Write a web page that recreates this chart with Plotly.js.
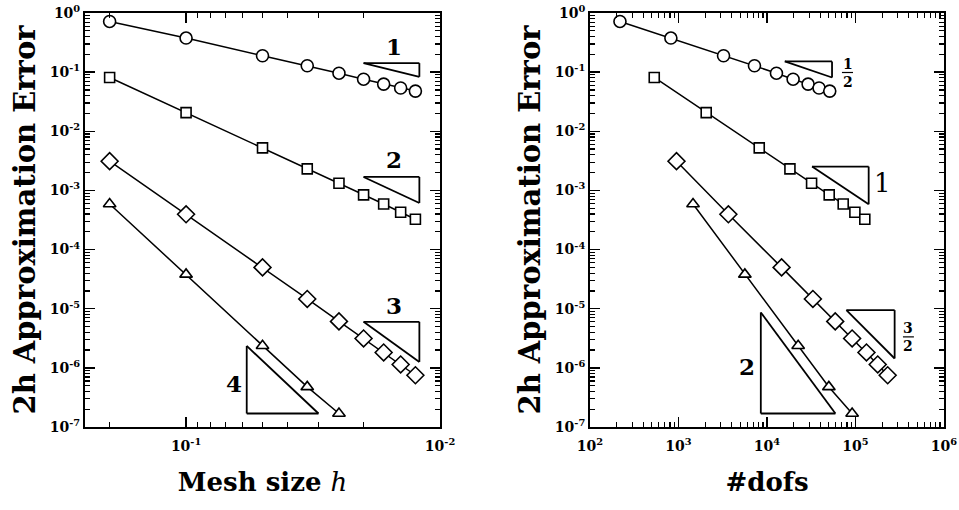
<!DOCTYPE html>
<html>
<head>
<meta charset="utf-8">
<script src="https://cdn.plot.ly/plotly-3.0.1.min.js"></script>
<style>html,body{margin:0;padding:0;background:#fff;}#chart{width:959px;height:510px;}</style>
</head>
<body>
<div id="chart"></div>
<script>
// ---- data ----
const meshSize = [0.2, 0.1, 0.05, 0.03333, 0.025, 0.02, 0.01667, 0.01429, 0.0125];
const meshSizeDeg4 = [0.2, 0.1, 0.05, 0.03333, 0.025];
const errDeg1 = [0.72, 0.377, 0.189, 0.128, 0.096, 0.076, 0.0628, 0.054, 0.0478];
const errDeg2 = [0.0813, 0.0207, 0.00524, 0.00231, 0.00132, 8.4e-4, 5.9e-4, 4.27e-4, 3.25e-4];
const errDeg3 = [3.12e-3, 3.95e-4, 5.0e-5, 1.46e-5, 6.1e-6, 3.14e-6, 1.82e-6, 1.14e-6, 7.5e-7];
const errDeg4 = [5.9e-4, 3.8e-5, 2.36e-6, 4.76e-7, 1.69e-7];
const dofsDeg1 = [218, 820, 3228, 7216, 12790, 19720, 29120, 38730, 51170];
const dofsDeg2 = [532, 2056, 8170, 18160, 31900, 50440, 72600, 98400, 127400];
const dofsDeg3 = [949, 3660, 14620, 33000, 59000, 91600, 133000, 178300, 231000];
const dofsDeg4 = [1459, 5620, 22500, 50000, 91600];

const yTickVals = [1, 1e-1, 1e-2, 1e-3, 1e-4, 1e-5, 1e-6, 1e-7];
const yTickText = ['10<sup>0</sup>','10<sup>-1</sup>','10<sup>-2</sup>','10<sup>-3</sup>','10<sup>-4</sup>','10<sup>-5</sup>','10<sup>-6</sup>','10<sup>-7</sup>'];
const hTickVals = [0.1, 0.01];
const hTickText = ['10<sup>-1</sup>','10<sup>-2</sup>'];
const dofsTickVals = [1e2, 1e3, 1e4, 1e5, 1e6];
const dofsTickText = ['10<sup>2</sup>','10<sup>3</sup>','10<sup>4</sup>','10<sup>5</sup>','10<sup>6</sup>'];

// slope guide triangles (reference rates)
const slopeTrianglesH = [
  [[0.02, 0.142], [0.01206, 0.142], [0.01206, 0.0834]],
  [[0.02, 1.69e-3], [0.01206, 1.69e-3], [0.01206, 6.14e-4]],
  [[0.02, 6.0e-6], [0.01206, 6.0e-6], [0.01206, 1.26e-6]],
  [[0.0577, 2.35e-6], [0.0577, 1.69e-7], [0.0301, 1.69e-7]]
];
const slopeLabelsH = [['1', 0.0152, 0.269], ['2', 0.0152, 3.28e-3], ['3', 0.0152, 1.15e-5], ['4', 0.0647, 5.5e-7]];
const slopeTrianglesDofs = [
  [[15890, 0.152], [54300, 0.152], [54300, 0.0812]],
  [[32280, 2.53e-3], [140900, 2.53e-3], [140900, 5.83e-4]],
  [[78900, 9.47e-6], [276800, 9.47e-6], [276800, 1.44e-6]],
  [[8510, 8.65e-6], [8510, 1.69e-7], [59300, 1.69e-7]]
];
const slopeLabelsDofs = [['1', 203800, 1.32e-3], ['2', 5870, 1.04e-6]];
const fractionsDofs = [
  {num: '1', den: '2', x: 81300, y: 0.0986, barX: [70300, 93700], barY: 0.0986},
  {num: '3', den: '2', x: 396000, y: 3.34e-6, barX: [343600, 457000], barY: 3.34e-6}
];

// ---- build ----
const FONT = 'DejaVu Serif, serif';
const markers = [
  {symbol: 'circle', size: 12},
  {symbol: 'square', size: 10},
  {symbol: 'diamond', size: 13},
  {symbol: 'triangle-up', size: 11}
];
const hSeries = [[meshSize, errDeg1], [meshSize, errDeg2], [meshSize, errDeg3], [meshSizeDeg4, errDeg4]];
const dSeries = [[dofsDeg1, errDeg1], [dofsDeg2, errDeg2], [dofsDeg3, errDeg3], [dofsDeg4, errDeg4]];
const traces = [];
function addTraces(series, xa, ya) {
  series.forEach((s, i) => {
    traces.push({
      x: s[0], y: s[1], xaxis: xa, yaxis: ya, type: 'scatter', mode: 'lines+markers',
      showlegend: false, cliponaxis: false,
      line: {color: 'black', width: 1.5},
      marker: {symbol: markers[i].symbol, size: markers[i].size, color: 'white', line: {color: 'black', width: 1.6}}
    });
  });
}
addTraces(hSeries, 'x', 'y');
addTraces(dSeries, 'x2', 'y2');

const shapes = [];
function addTriangles(tris, xr, yr) {
  tris.forEach(t => {
    for (let k = 0; k < 3; k++) {
      const a = t[k], b = t[(k + 1) % 3];
      shapes.push({type: 'line', xref: xr, yref: yr, x0: a[0], y0: a[1], x1: b[0], y1: b[1], line: {color: 'black', width: 1.8}});
    }
  });
}
addTriangles(slopeTrianglesH, 'x', 'y');
addTriangles(slopeTrianglesDofs, 'x2', 'y2');

const annotations = [];
slopeLabelsH.forEach(l => annotations.push({xref: 'x', yref: 'y', x: Math.log10(l[1]), y: Math.log10(l[2]), text: '<b>' + l[0] + '</b>', showarrow: false, font: {family: FONT, size: 23, color: 'black'}}));
slopeLabelsDofs.forEach((l, i) => annotations.push({xref: 'x2', yref: 'y2', x: Math.log10(l[1]), y: Math.log10(l[2]), text: i === 0 ? l[0] : '<b>' + l[0] + '</b>', showarrow: false, font: {family: FONT, size: i === 0 ? 26 : 23, color: 'black'}}));
fractionsDofs.forEach(f => {
  annotations.push({xref: 'x2', yref: 'y2', x: Math.log10(f.x), y: Math.log10(f.y), text: '<b>' + f.num + '</b><br><b>' + f.den + '</b>', showarrow: false, font: {family: FONT, size: 14, color: 'black'}});
  shapes.push({type: 'line', xref: 'x2', yref: 'y2', x0: f.barX[0], x1: f.barX[1], y0: f.barY, y1: f.barY, line: {color: 'black', width: 1.2}});
});

function minorLog(lo, hi) {
  const out = [];
  for (let e = lo; e < hi; e++) for (let m = 2; m <= 9; m++) out.push(m * Math.pow(10, e));
  return out;
}
const bold = arr => arr.map(t => '<b>' + t + '</b>');
const tickFont = {family: FONT, size: 14, color: 'black'};
const xTitleFont = {family: FONT, size: 26, color: 'black'};
const yTitleFont = {family: FONT, size: 29, color: 'black'};
function axisBase() {
  return {
    type: 'log', showline: true, linecolor: 'black', linewidth: 2, mirror: 'allticks',
    ticks: 'inside', ticklen: 10, tickwidth: 1.5, tickcolor: 'black', showgrid: false, zeroline: false,
    tickmode: 'array', tickfont: tickFont, automargin: false,
    minor: {ticks: 'inside', ticklen: 5, tickwidth: 1.2, tickcolor: 'black', showgrid: false, tickmode: 'array'}
  };
}
const xaxis = Object.assign(axisBase(), {domain: [0, 0.4133], anchor: 'y', range: [-0.602, -2], tickvals: hTickVals, ticktext: bold(hTickText),
  ticklabelstandoff: 5, title: {text: '<b>Mesh size </b><i>h</i>', font: xTitleFont, standoff: 20}});
xaxis.minor.tickvals = minorLog(-2, 0);
const xaxis2 = Object.assign(axisBase(), {domain: [0.5879, 1], anchor: 'y2', range: [2, 6], tickvals: dofsTickVals, ticktext: bold(dofsTickText),
  ticklabelstandoff: 5, title: {text: '<b>#dofs</b>', font: xTitleFont, standoff: 20}});
xaxis2.minor.tickvals = minorLog(2, 6);
const yaxis = Object.assign(axisBase(), {domain: [0, 1], anchor: 'x', range: [-7, 0], tickvals: yTickVals, ticktext: bold(yTickText),
  title: {text: '<b>2h Approximation Error</b>', font: yTitleFont, standoff: 6}});
yaxis.minor.tickvals = minorLog(-7, 0);
const yaxis2 = Object.assign(axisBase(), {domain: [0, 1], anchor: 'x2', range: [-7, 0], tickvals: yTickVals, ticktext: bold(yTickText),
  title: {text: '<b>2h Approximation Error</b>', font: yTitleFont, standoff: 6}});
yaxis2.minor.tickvals = minorLog(-7, 0);

const layout = {
  width: 959, height: 510,
  margin: {l: 85, r: 15, t: 13, b: 83},
  paper_bgcolor: 'white', plot_bgcolor: 'white',
  showlegend: false,
  xaxis, xaxis2, yaxis, yaxis2,
  shapes, annotations
};
Plotly.newPlot('chart', traces, layout, {displayModeBar: false, staticPlot: true});
</script>
</body>
</html>
